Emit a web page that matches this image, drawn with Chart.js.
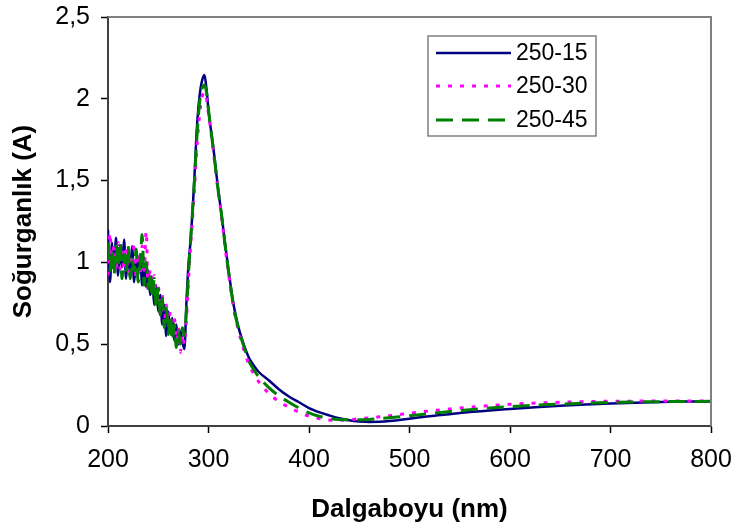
<!DOCTYPE html>
<html>
<head>
<meta charset="utf-8">
<script src="https://cdn.jsdelivr.net/npm/chart.js@4"></script>
<style>
  html, body { margin: 0; padding: 0; background: #fff; }
  #wrap { width: 735px; height: 527px; }
</style>
</head>
<body>
<div id="wrap"><canvas id="spectrum"></canvas></div>
<script>
// wavelength grid (nm)
const nm = [200, 202, 204, 206, 208, 210, 212, 214, 216, 218,
  220, 222, 224, 226, 228, 230, 232, 234, 236, 238,
  240, 242, 244, 246, 248, 250, 252, 254, 256, 258,
  260, 262, 264, 266, 268, 270, 272, 274, 276,
  278, 280, 282, 284, 286, 288, 290, 292, 294, 296, 298, 300, 302, 304, 306, 308, 310,
  313, 316, 320, 325, 330, 335, 340, 345, 350,
  360, 370, 380, 390, 400, 410, 420, 430, 440, 450, 460, 470, 480, 490, 500,
  520, 540, 560, 580, 600,
  625, 650, 675, 700, 725, 750, 775, 800];

const a15 = [1.20, 0.88, 1.12, 0.95, 1.15, 0.92, 1.08, 0.97, 1.14, 0.90,
  1.06, 0.93, 1.10, 0.88, 1.02, 0.92, 1.05, 0.86, 0.98, 0.85,
  0.95, 0.80, 0.90, 0.74, 0.86, 0.70, 0.80, 0.62, 0.74, 0.55,
  0.70, 0.58, 0.66, 0.52, 0.62, 0.50, 0.58, 0.52, 0.47,
  0.75, 0.98, 1.12, 1.30, 1.52, 1.78, 1.95, 2.06, 2.12, 2.145, 2.06, 1.93, 1.83, 1.74, 1.64, 1.53, 1.43,
  1.29, 1.14, 0.95, 0.74, 0.60, 0.50, 0.42, 0.37, 0.33,
  0.28, 0.225, 0.18, 0.145, 0.11, 0.085, 0.065, 0.047, 0.035, 0.028, 0.025, 0.026, 0.03, 0.037, 0.045,
  0.06, 0.072, 0.085, 0.095, 0.104,
  0.115, 0.124, 0.131, 0.137, 0.142, 0.146, 0.149, 0.15];

const a30 = [0.92, 1.18, 1.00, 1.10, 0.94, 1.12, 0.96, 1.08, 0.95, 1.10,
  0.93, 1.05, 0.98, 1.12, 0.90, 1.06, 0.92, 1.10, 0.95, 1.19,
  0.82, 0.96, 0.80, 0.92, 0.76, 0.86, 0.68, 0.80, 0.62, 0.74,
  0.60, 0.70, 0.55, 0.66, 0.52, 0.60, 0.45, 0.56, 0.50,
  0.65, 0.88, 1.08, 1.26, 1.45, 1.66, 1.83, 1.95, 2.02, 2.04, 2.00, 1.91, 1.82, 1.72, 1.62, 1.52, 1.42,
  1.28, 1.12, 0.93, 0.72, 0.58, 0.47, 0.38, 0.32, 0.27,
  0.20, 0.15, 0.115, 0.085, 0.06, 0.045, 0.037, 0.035, 0.038, 0.045, 0.05, 0.056, 0.062, 0.07, 0.078,
  0.092, 0.104, 0.115, 0.125, 0.133,
  0.14, 0.145, 0.149, 0.151, 0.152, 0.153, 0.153, 0.153];

const a45 = [1.12, 0.95, 1.08, 0.92, 1.10, 0.97, 1.13, 0.90, 1.05, 0.94,
  1.10, 0.90, 1.02, 0.95, 1.08, 0.88, 1.00, 1.17, 0.86, 1.00,
  0.84, 0.94, 0.78, 0.90, 0.72, 0.84, 0.68, 0.78, 0.60, 0.72,
  0.56, 0.68, 0.52, 0.62, 0.48, 0.58, 0.50, 0.60, 0.55,
  0.70, 0.92, 1.12, 1.30, 1.50, 1.72, 1.90, 2.02, 2.07, 2.085, 2.04, 1.93, 1.83, 1.73, 1.63, 1.52, 1.42,
  1.29, 1.13, 0.94, 0.73, 0.59, 0.49, 0.40, 0.345, 0.30,
  0.235, 0.185, 0.145, 0.11, 0.08, 0.06, 0.047, 0.04, 0.037, 0.038, 0.04, 0.045, 0.05, 0.056, 0.063,
  0.076, 0.088, 0.10, 0.11, 0.118,
  0.127, 0.134, 0.14, 0.144, 0.147, 0.149, 0.15, 0.151];

const seriesNames = ["250-15", "250-30", "250-45"];
const xTicks = [200, 300, 400, 500, 600, 700, 800];
const yTicks = [0, 0.5, 1, 1.5, 2, 2.5];

const FONT = "'Liberation Sans', Arial, sans-serif";

function pts(arr) {
  return nm.map((x, i) => ({ x: x, y: arr[i] }));
}

// gray frame on top/right + boxed legend like the Excel original
const frameAndLegend = {
  id: "frameAndLegend",
  afterDraw(chart) {
    const ctx = chart.ctx;
    const a = chart.chartArea;
    ctx.save();
    ctx.strokeStyle = "#808080";
    ctx.lineWidth = 2;
    ctx.beginPath();
    ctx.moveTo(a.left, a.top);
    ctx.lineTo(a.right, a.top);
    ctx.lineTo(a.right, a.bottom);
    ctx.stroke();

    // legend box
    ctx.fillStyle = "#fff";
    ctx.fillRect(428, 36, 168, 100);
    ctx.lineWidth = 1.5;
    ctx.strokeRect(428, 36, 168, 100);
    const rows = [53, 86, 120];
    chart.data.datasets.forEach((ds, i) => {
      ctx.strokeStyle = ds.borderColor;
      ctx.lineWidth = ds.borderWidth;
      ctx.setLineDash(ds.borderDash || []);
      ctx.beginPath();
      ctx.moveTo(436, rows[i]);
      ctx.lineTo(511, rows[i]);
      ctx.stroke();
      ctx.setLineDash([]);
      ctx.fillStyle = "#000";
      ctx.font = "23px " + FONT;
      ctx.textBaseline = "middle";
      ctx.fillText(ds.label, 516, rows[i] + 1);
    });
    ctx.restore();
  }
};

new Chart(document.getElementById("spectrum"), {
  type: "line",
  data: {
    datasets: [
      {
        label: seriesNames[0],
        data: pts(a15),
        borderColor: "#000080",
        borderWidth: 2.5,
        order: 3
      },
      {
        label: seriesNames[1],
        data: pts(a30),
        borderColor: "#FF00FF",
        borderWidth: 3,
        borderDash: [4, 8],
        order: 2
      },
      {
        label: seriesNames[2],
        data: pts(a45),
        borderColor: "#008000",
        borderWidth: 3,
        borderDash: [17, 9],
        order: 1
      }
    ]
  },
  options: {
    responsive: true,
    maintainAspectRatio: false,
    animation: false,
    layout: { padding: { left: 0, top: 17, right: 24, bottom: 0 } },
    elements: {
      point: { radius: 0 },
      line: { cubicInterpolationMode: "monotone" }
    },
    plugins: {
      legend: { display: false },
      tooltip: { enabled: false }
    },
    scales: {
      x: {
        type: "linear",
        min: 200,
        max: 800,
        afterFit: (s) => { s.height = 101; s.paddingLeft = 0; s.paddingRight = 0; },
        afterBuildTicks: (s) => { s.ticks = xTicks.map(v => ({ value: v })); },
        grid: { drawOnChartArea: false, tickLength: 7, tickColor: "#000", tickWidth: 1.5 },
        border: { color: "#404040", width: 2 },
        ticks: { color: "#000", font: { family: FONT, size: 25 }, padding: 12, maxRotation: 0 },
        title: {
          display: true,
          text: "Dalgaboyu (nm)",
          color: "#000",
          font: { family: FONT, size: 26, weight: "bold" },
          padding: { top: 0, bottom: 2 }
        }
      },
      y: {
        min: 0,
        max: 2.5,
        afterFit: (s) => { s.width = 108; s.paddingTop = 0; s.paddingBottom = 0; },
        afterBuildTicks: (s) => { s.ticks = yTicks.map(v => ({ value: v })); },
        grid: { drawOnChartArea: false, tickLength: 7, tickColor: "#000", tickWidth: 1.5 },
        border: { color: "#404040", width: 2 },
        ticks: {
          color: "#000",
          font: { family: FONT, size: 25 },
          padding: 11,
          callback: (v) => String(v).replace(".", ",")
        },
        title: {
          display: true,
          text: "Soğurganlık (A)",
          color: "#000",
          font: { family: FONT, size: 26, weight: "bold" },
          padding: { top: 8, bottom: 0 }
        }
      }
    }
  },
  plugins: [frameAndLegend]
});
</script>
</body>
</html>
